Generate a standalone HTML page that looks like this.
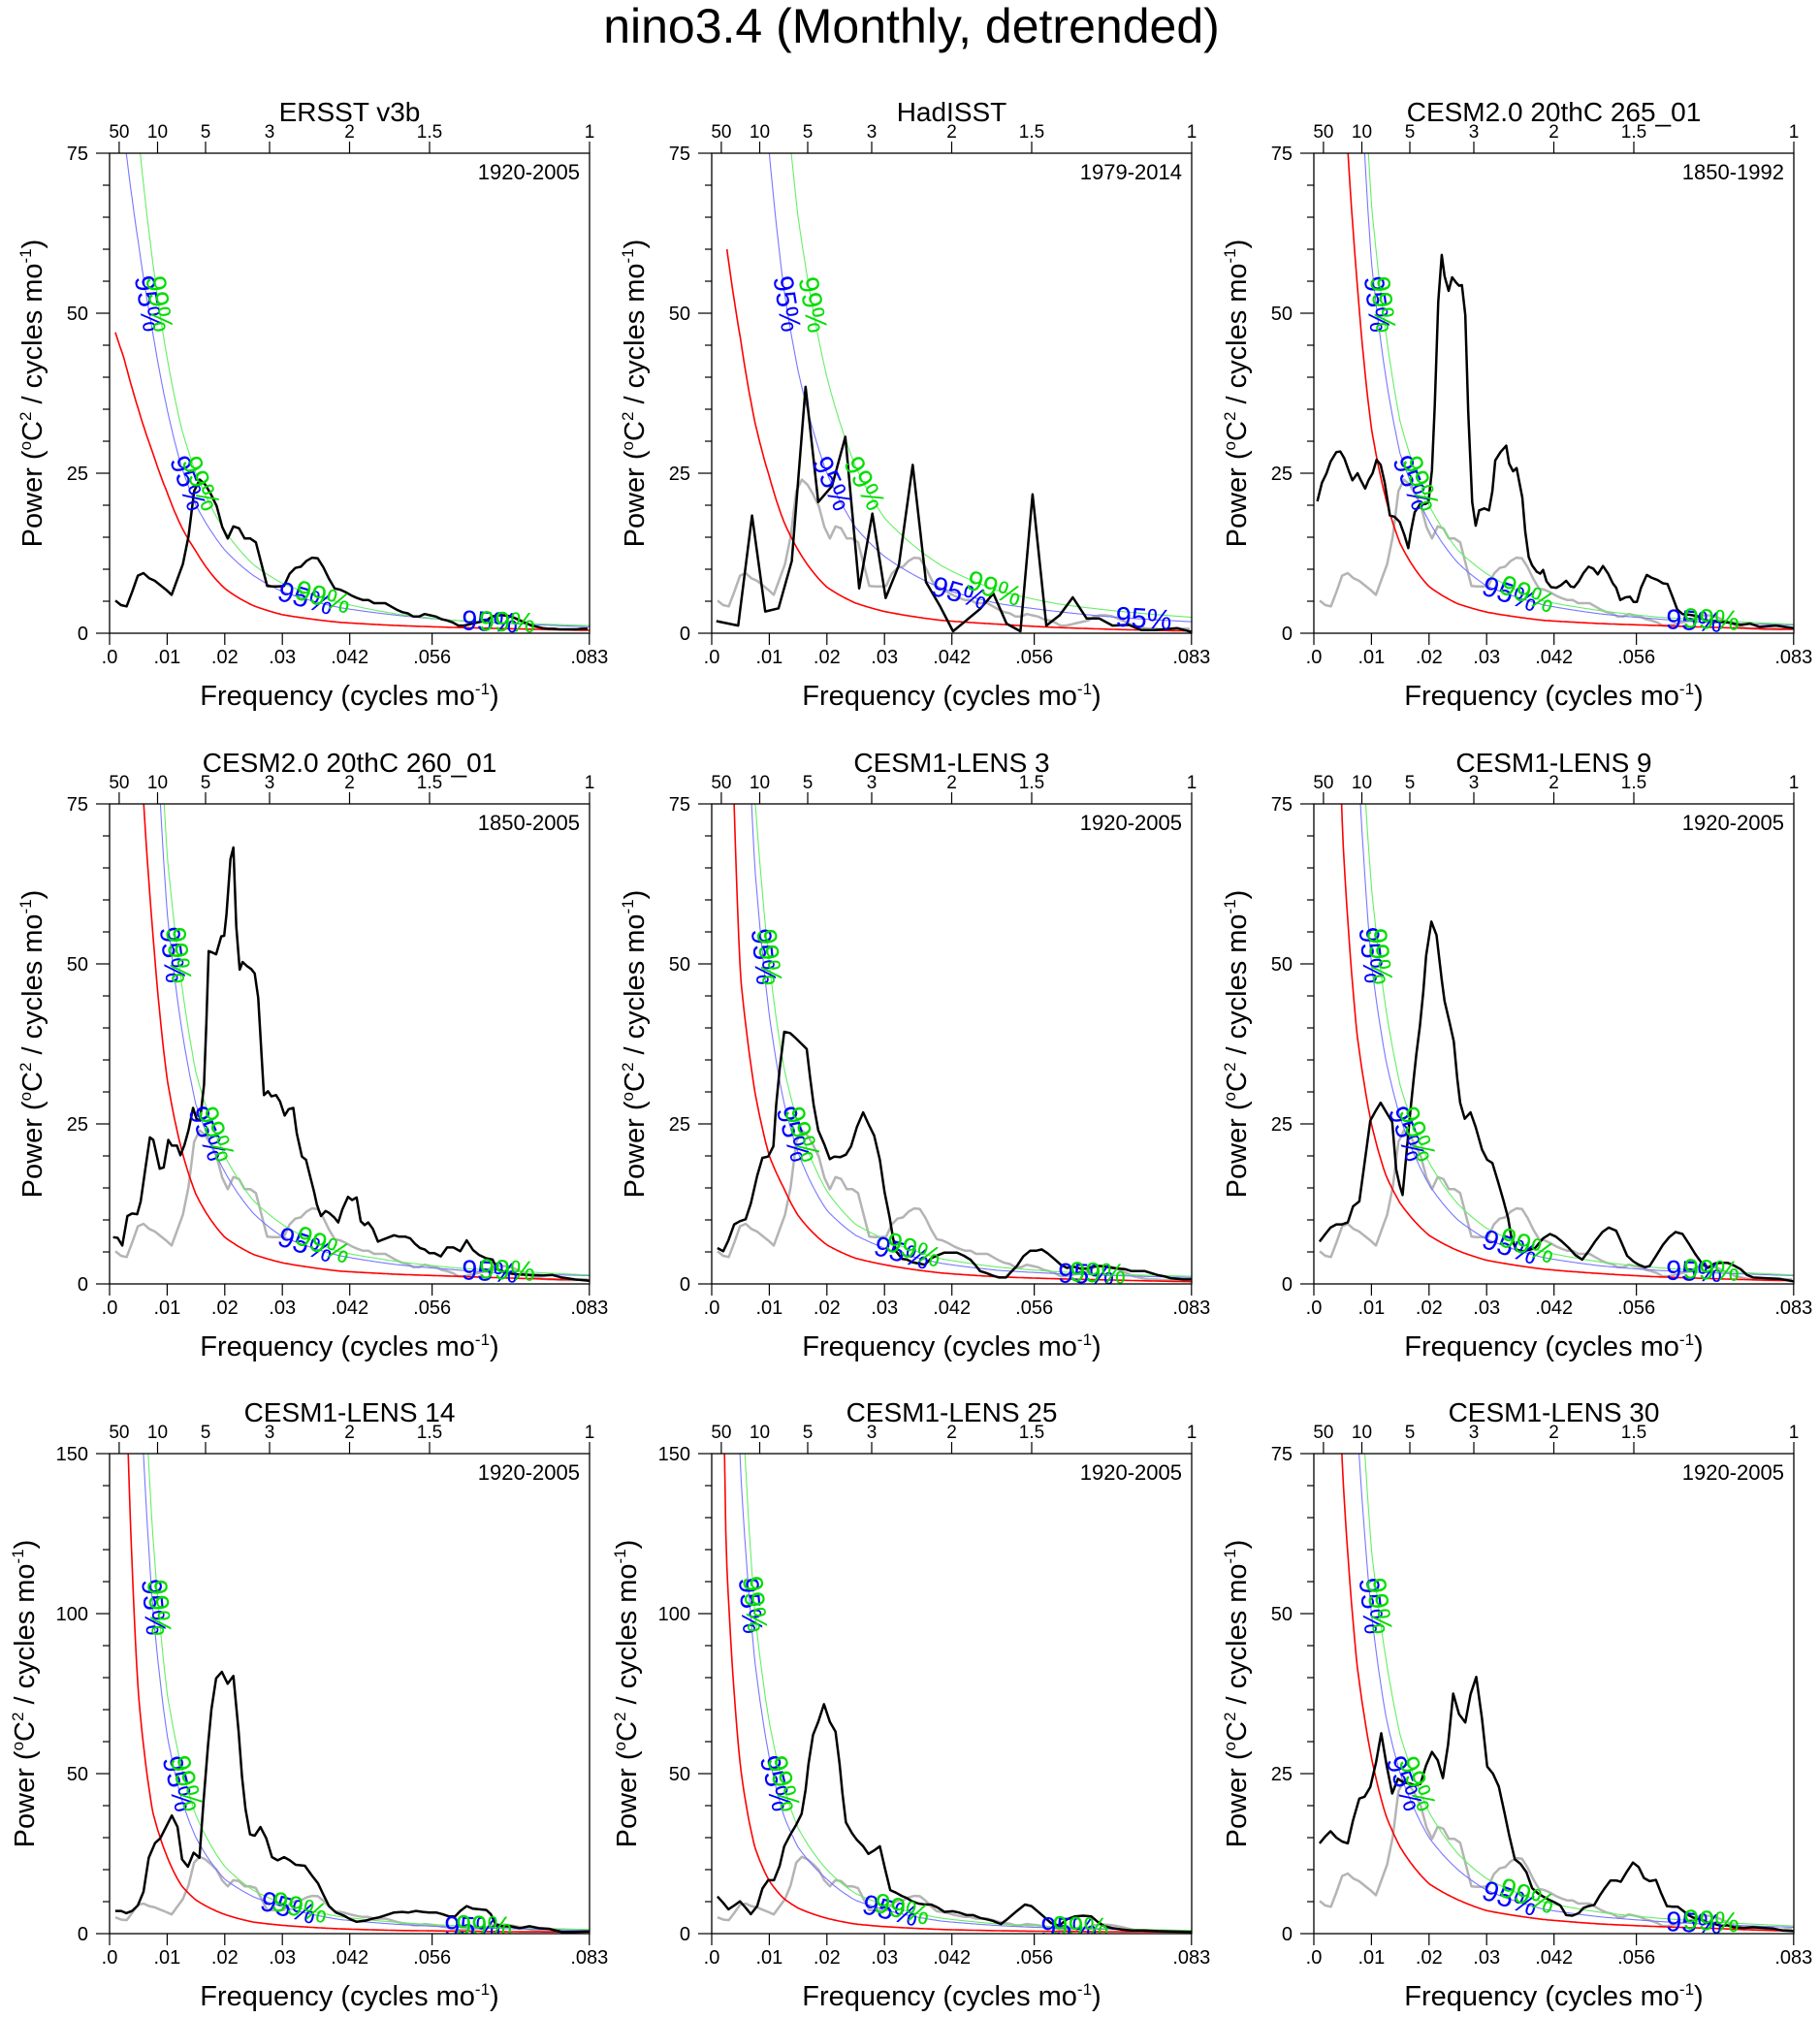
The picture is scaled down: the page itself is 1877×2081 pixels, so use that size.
<!DOCTYPE html>
<html><head><meta charset="utf-8"><title>nino3.4 spectra</title>
<style>
html,body{margin:0;padding:0;background:#fff;}
svg{display:block;font-family:"Liberation Sans",Arial,sans-serif;}
</style></head>
<body>
<svg id="fig" xmlns="http://www.w3.org/2000/svg" width="1877" height="2081" viewBox="0 0 1877 2081">
<rect width="1877" height="2081" fill="#fff"/>
<text x="940" y="44" font-size="50" text-anchor="middle">nino3.4 (Monthly, detrended)</text>
</svg>
<script>
// ---------- data ----------
const GRID = [0.001,0.0025,0.005,0.0075,0.01,0.0125,0.015,0.02,0.025,0.03,0.04,0.05,0.06,0.07,0.0833];
const xTickVals = [0,0.01,0.02,0.03,0.0417,0.056,0.0833];
const xTickLabels = [".0",".01",".02",".03",".042",".056",".083"];
const periodVals = [50,10,5,3,2,1.5,1];
const periodLabels = ["50","10","5","3","2","1.5","1"];

const ersstStart = 0.00101, ersstStep = 0.000976;
const ersstVals = [5.1,4.4,4.2,6.5,9.0,9.4,8.6,8.2,7.5,6.8,6.0,8.4,10.8,15.1,22.2,24.0,23.2,21.7,19.9,16.6,14.8,16.7,16.4,14.8,14.8,14.2,10.8,7.4,7.3,7.3,7.4,9.3,10.2,10.4,11.3,11.8,11.7,10.3,8.5,7.0,6.8,6.4,5.9,5.5,5.2,5.2,4.7,4.7,4.7,4.2,3.7,3.3,3.1,2.6,2.6,3.0,2.8,2.6,2.2,2.0,1.7,1.2,1.2,1.4,1.6,1.8,2.0,2.6,2.8,2.8,2.7,2.4,2.0,1.6,1.2,1.0,0.8,0.7,0.7,0.6,0.6,0.6,0.6,0.7,0.7];

const hadFreq = [.0008,.0046,.007,.0093,.0116,.0139,.0163,.0185,.0209,.0232,.0256,.0279,.0302,.0325,.0349,.0372,.0396,.0419,.0442,.0466,.0489,.0512,.0536,.0557,.0581,.0604,.0627,.0651,.0673,.0696,.0724,.0746,.0769,.0808,.0833];
const hadVals = [1.9,1.2,18.4,3.4,3.9,11.3,38.5,20.5,23,30.7,7.0,18.7,5.5,10.6,26.3,8.0,4.3,0.3,2.0,3.8,6.2,1.5,0.3,21.7,1.2,2.8,5.6,2.3,2.3,1.2,1.3,0.5,0.5,0.8,0.2];

const c265Freq = [.0006,.0014,.0022,.0029,.0039,.0046,.0053,.0061,.0067,.0076,.0081,.0089,.0095,.0102,.0109,.0116,.0123,.0132,.014,.0149,.0157,.0164,.0168,.0175,.0184,.0194,.0199,.0205,.021,.0216,.0222,.0227,.0234,.024,.0247,.0252,.0257,.0263,.0268,.0275,.0281,.0287,.0296,.0304,.031,.0315,.0324,.0334,.0339,.0346,.0352,.0362,.0367,.0373,.0379,.0387,.0393,.0398,.0404,.0412,.0421,.0429,.0438,.0446,.0452,.046,.0468,.0477,.0485,.0493,.0502,.0511,.0519,.0525,.0532,.0541,.0549,.0555,.0561,.0568,.0578,.0586,.0597,.0606,.0614,.0623,.0631,.064,.0651,.0665,.0679,.0696,.0718,.0741,.0757,.0774,.0802,.0833];
const c265Vals = [20.6,23.5,25.0,26.8,28.3,28.4,27.3,25.3,23.9,25.0,24.0,22.6,23.9,25.0,27.1,26.3,23.5,18.4,18.2,17.4,15.4,13.3,15.7,18.9,20.1,20.2,20.5,25.5,35.6,51.8,59.1,55.8,53.5,55.6,54.8,54.3,54.4,49.7,34.6,20.5,16.8,19.2,19.5,19.2,22.2,27.0,28.3,29.3,26.5,25.3,25.8,21.2,15.9,11.9,10.6,9.6,9.3,9.9,8.1,7.2,7.1,7.5,8.2,7.3,7.2,8.1,9.4,10.4,10.1,9.2,10.5,9.3,7.8,7.1,5.2,5.6,5.7,4.9,4.9,7.1,9.1,8.7,8.3,7.8,7.7,5.6,3.7,3.0,2.9,2.7,2.0,1.9,1.7,1.3,1.5,1.0,1.2,0.8];

const c260Freq = [.0006,.0014,.0022,.0031,.0039,.0048,.0054,.0062,.007,.0076,.0087,.0094,.0102,.0108,.0117,.0123,.013,.0137,.0145,.0151,.0157,.0164,.0168,.0172,.0178,.0185,.0194,.0199,.0203,.021,.0215,.022,.0226,.0231,.0238,.0246,.0252,.0258,.0264,.0268,.0275,.0281,.0289,.0296,.0304,.0311,.0319,.0325,.0334,.0341,.0348,.0355,.036,.0367,.0375,.0381,.039,.0397,.0404,.0414,.0421,.0429,.0436,.0443,.0449,.0457,.0466,.0471,.048,.0494,.0502,.0513,.0522,.053,.0539,.0547,.0555,.0564,.0575,.0586,.0597,.0609,.062,.0631,.0642,.0654,.0665,.0673,.069,.0707,.0729,.0752,.0769,.0785,.0808,.0833];
const c260Vals = [7.3,7.2,6.0,10.6,11.0,10.9,12.9,17.9,22.9,22.5,18.0,18.2,22.5,21.6,21.6,20.1,21.7,24.0,27.5,25.8,25.5,31.1,40.7,52.0,51.8,51.5,54.3,54.4,57.8,66.4,68.2,55.8,49.1,50.3,49.7,49.2,48.5,44.7,35.6,29.5,30.1,29.3,29.5,28.5,26.3,27.3,27.5,23.5,19.9,19.4,16.9,14.4,12.4,10.6,11.4,11.1,10.4,9.6,11.6,13.6,13.1,13.5,9.8,9.2,9.6,8.6,6.6,6.8,7.1,7.6,7.4,7.4,7.1,6.3,5.6,5.4,4.8,4.8,4.3,5.7,5.7,5.1,6.8,5.3,4.5,4.0,3.8,2.3,1.7,1.5,1.4,1.3,1.4,1.0,0.7,0.5];

const l3Freq = [.001,.002,.0029,.0039,.0049,.0059,.0068,.0079,.0088,.0098,.0107,.0112,.0118,.0126,.0136,.0146,.0156,.0165,.0171,.0177,.0185,.0196,.0205,.0213,.0223,.0233,.0242,.0252,.0263,.0272,.0282,.0292,.03,.0309,.0315,.032,.0331,.0339,.0348,.0359,.037,.0381,.0393,.0404,.0415,.0426,.0438,.0449,.0457,.0466,.0477,.0488,.0499,.0511,.0519,.053,.0541,.0553,.0564,.0573,.0583,.0595,.0606,.0617,.0628,.064,.0651,.0662,.0673,.0684,.0696,.0707,.0718,.0729,.0741,.0752,.0763,.0774,.0785,.0797,.0808,.0819,.0833];
const l3Vals = [5.6,5.1,6.8,9.3,9.8,10.1,12.6,16.9,19.7,19.9,21.5,28.0,33.6,39.4,39.2,38.4,37.5,36.7,32.1,28.0,24.0,21.7,19.5,19.9,19.8,20.2,21.5,24.5,26.8,25.0,23.2,19.4,14.4,10.4,7.1,5.1,3.9,3.8,3.4,3.2,3.0,4.0,4.5,4.9,4.9,4.9,4.4,3.8,3.0,2.0,1.7,1.3,1.0,1.0,1.8,2.8,4.3,5.2,5.2,5.4,4.8,3.9,3.0,2.5,2.7,2.4,2.4,2.7,2.8,2.7,2.5,2.4,2.3,2.0,2.0,2.0,1.7,1.4,1.2,0.9,0.8,0.7,0.7];

const l9Freq = [.001,.002,.0029,.0039,.0049,.0059,.0068,.0079,.0088,.0098,.0107,.0116,.0126,.0136,.0143,.0149,.0154,.0162,.0167,.0173,.0178,.0184,.019,.0195,.0204,.0213,.0222,.0227,.0236,.0243,.0249,.0254,.0262,.0272,.0281,.0292,.0301,.031,.032,.0329,.0337,.0343,.0351,.0362,.0373,.0384,.0398,.041,.042,.0431,.0443,.0454,.0466,.0477,.0488,.0501,.0512,.0525,.0533,.0544,.0555,.0564,.0575,.0583,.0595,.0606,.0617,.0628,.064,.0651,.0662,.0673,.0684,.0696,.0707,.0718,.0729,.0741,.0752,.0763,.0785,.0808,.0833];
const l9Vals = [6.6,7.8,8.8,9.3,9.3,9.6,12.1,12.9,18.9,25.5,27.0,28.3,26.8,25.3,17.9,15.4,13.9,21.5,26.5,31.8,35.9,40.2,45.7,51.3,56.6,54.5,47.5,44.2,40.7,37.9,32.1,28.3,25.8,26.8,24.5,21.0,19.4,18.9,15.9,13.1,10.4,7.3,5.4,5.1,5.3,5.6,7.1,7.8,7.4,6.6,5.6,4.5,3.8,5.1,6.6,8.1,8.8,8.3,6.7,4.4,3.5,3.0,2.6,2.8,4.5,6.1,7.3,8.1,7.8,6.3,4.7,3.3,2.5,3.2,3.3,3.3,2.9,2.3,1.4,1.0,0.9,0.8,0.4];

const l14Freq = [.001,.002,.0029,.0039,.0049,.0059,.0068,.0079,.0088,.0098,.0108,.0118,.0126,.0136,.0146,.0156,.0163,.0171,.0177,.0185,.0195,.0205,.0215,.0224,.023,.0236,.0244,.0252,.0262,.0272,.0282,.0292,.0303,.0313,.0323,.0339,.0351,.0362,.037,.0381,.0393,.0407,.0418,.0429,.0443,.0457,.0468,.048,.0494,.0508,.0519,.0532,.0544,.0555,.0567,.0578,.0589,.06,.0609,.062,.0631,.0642,.0654,.0662,.067,.0682,.0696,.0712,.0729,.0746,.0763,.0785,.0808,.0833];
const l14Vals = [7.1,7.1,6.4,7.1,8.8,13.1,23.7,28.3,29.8,33.3,36.9,33.3,23.2,20.9,25.3,23.7,40.9,59.1,70.2,79.8,81.8,78.1,80.5,63.1,49.0,38.9,31.0,30.6,33.3,29.8,23.9,22.9,23.9,22.9,21.5,21.2,18.2,15.7,12.6,8.6,6.6,5.6,4.5,3.7,4.0,4.7,5.1,5.8,6.6,6.8,6.6,7.1,6.8,6.6,6.6,6.1,5.4,5.4,7.1,8.6,7.8,7.6,7.4,6.1,3.0,2.3,2.3,1.7,2.3,1.7,1.5,0.5,0.5,0.7];

const l25Freq = [.001,.002,.0029,.0039,.0049,.0059,.0068,.0079,.0088,.0098,.0108,.0118,.0126,.0136,.0146,.0156,.0163,.0168,.0176,.0185,.0195,.0205,.0215,.0222,.0227,.0233,.0244,.0252,.0263,.0272,.0282,.0292,.0301,.031,.032,.033,.0339,.0348,.0359,.037,.0381,.0393,.0404,.0418,.0429,.0443,.0454,.0466,.0477,.0488,.0502,.0513,.053,.0544,.0555,.0567,.0578,.0589,.0603,.0617,.0631,.0645,.0659,.067,.0682,.0696,.0712,.0729,.0752,.0774,.0797,.0833];
const l25Vals = [11.6,9.6,7.6,8.8,10.1,8.1,6.1,8.6,14.1,16.7,16.7,21.2,27.3,30.8,33.8,37.4,44.9,53.0,62.1,66.2,71.7,66.2,63.1,53.0,43.9,34.8,31.3,29.3,27.3,24.9,26.0,27.3,20.2,13.6,12.8,11.8,11.1,10.1,9.4,9.1,9.1,8.1,6.8,7.0,6.6,5.8,5.8,4.9,4.5,4.0,3.0,4.5,7.1,9.1,8.6,6.8,5.1,3.3,2.5,4.5,5.4,5.6,5.4,3.7,2.3,1.7,1.3,1.0,1.0,0.8,0.7,0.5];

const l30Freq = [.001,.002,.0029,.0039,.0049,.0059,.0068,.0079,.0088,.0098,.0108,.0117,.0126,.0136,.0146,.0156,.0165,.0176,.0185,.0195,.0205,.0215,.0224,.0233,.0242,.0252,.0263,.0272,.0282,.0292,.0301,.0311,.0321,.0331,.0339,.0349,.0359,.0369,.0379,.0389,.0398,.0408,.0418,.0428,.0438,.0449,.046,.0468,.0477,.0487,.0496,.0505,.0515,.0525,.0533,.0543,.0554,.0564,.0573,.0583,.0594,.0603,.0613,.0623,.0632,.0642,.0652,.0662,.0673,.0684,.0696,.0707,.0718,.0729,.0746,.0763,.078,.0797,.0813,.0833];
const l30Vals = [14.1,15.2,16.0,15.0,14.4,14.1,17.7,21.1,21.4,22.9,26.8,31.3,26.5,21.9,24.2,23.6,23.5,23.2,23.4,26.3,28.4,27.1,24.3,29.5,37.5,34.3,33.0,37.4,40.1,33.6,26.1,25.0,23.0,18.9,15.4,11.6,10.9,9.6,7.1,6.3,5.8,5.3,4.9,4.4,2.9,2.8,3.2,4.0,4.3,4.5,5.9,7.1,8.3,8.3,8.1,9.6,11.1,10.4,8.7,8.2,8.4,6.3,4.3,4.2,4.2,3.5,2.8,2.4,2.2,1.7,1.5,1.2,1.3,1.0,0.9,1.0,0.9,0.8,0.5,0.4];

// red-noise and significance curves (values at GRID frequencies)
const redErsst = [47,43,35,28.2,22,16.6,12.8,7.0,4.3,2.9,1.7,1.2,0.9,0.7,0.45];
const sig95Ersst = [95,78,61,47,35,26,20,13,9,6.5,4.0,2.8,2.0,1.5,1.0];
const sig99Ersst = [130,105,78,58,43,32,25,16,10.7,7.8,4.8,3.0,2.0,1.6,1.2];
const redHad = [null,61,46,33,24.5,17.5,13,7.2,4.7,3.4,2.0,1.4,0.9,0.6,0.35];
const sig95Had = [200,170,130,100,75,54,41,25,16.5,12,7,4.6,3.4,2.5,1.8];
const sig99Had = [260,220,170,140,115,88,65,40,26,18,10.5,6.6,4.6,3.5,2.5];
const redC2 = [300,200,90,55,32,21,14,7.3,4.6,3.3,2.0,1.5,1.2,0.9,0.6];
const sig95C2 = [500,300,160,100,58,40,28,17.5,11,7.4,4.4,3.0,2.2,1.6,1.3];
const sig99C2 = [550,350,180,115,67,47,33,20,13,9.3,5.0,3.5,2.5,2.0,1.4];
const redL3 = [300,130,48,30,20,15,10.7,6.1,4.0,3.0,1.7,1.1,0.8,0.6,0.35];
const sig95L3 = [400,220,120,65,42,28.5,20.5,11.5,7.6,5.6,3.2,2.1,1.6,1.3,1.0];
const sig99L3 = [450,260,140,76,50,34,25,14.5,9.3,7.0,3.9,2.6,1.9,1.5,1.2];
const redL9 = [400,180,70,39,25,17,12.6,7.6,5.2,3.7,2.3,1.6,1.1,0.8,0.5];
const sig95L9 = [500,280,150,85,50,35,26,15.5,10,7.0,4.1,2.8,2.1,1.7,1.3];
const sig99L9 = [550,330,175,100,62,43,31,19,12.5,8.7,5.0,3.4,2.5,2.0,1.4];
const redL14 = [600,200,75,38,24,15,10.5,6.0,3.6,2.6,1.5,1.0,0.8,0.6,0.5];
const sig95L14 = [800,400,185,102,62,42,30,17,11.5,8.4,4.4,2.9,2.0,1.5,1.0];
const sig99L14 = [900,500,220,125,75,52,37,21,13.5,9.5,5.3,3.5,2.5,1.9,1.3];
const redL25 = [400,120,52,27,16.5,11,8,4.8,3.0,2.2,1.3,0.9,0.7,0.6,0.5];
const sig95L25 = [700,330,145,85,55,37,27,17,10.4,7.5,3.9,2.5,1.7,1.3,0.8];
const sig99L25 = [800,400,180,100,66,46,33,20,12.5,9,4.8,3.0,2.1,1.5,1.0];
const redL30 = [400,150,72,42,27.5,18.5,13.5,7.8,5.3,3.6,2.2,1.5,1.1,0.8,0.4];
const sig95L30 = [500,270,140,80,50,34,25,15,10,6.8,3.8,2.6,1.9,1.4,1.0];
const sig99L30 = [550,320,170,98,60,43,31,19,12.5,8.6,4.9,3.3,2.4,1.8,1.2];

// ---------- rendering ----------
const NS = "http://www.w3.org/2000/svg";
const svg = document.getElementById('fig');
const COLX = [113,734,1355], ROWY = [158,829,1499], PW = 495, PH = 495, FMAX = 1/12;
const ersstPairs = ersstVals.map((v,i)=>[ersstStart+i*ersstStep, v]);
const zip = (f,v)=>f.map((x,i)=>[x,v[i]]);

const panels = [
 {name:'ersst', title:'ERSST v3b', years:'1920-2005', ymax:75, black:ersstPairs, gray:null, red:redErsst, s95:sig95Ersst, s99:sig99Ersst, lab:[0.034,0.037,0.066,0.069]},
 {name:'hadisst', title:'HadISST', years:'1979-2014', ymax:75, black:zip(hadFreq,hadVals), gray:ersstPairs, red:redHad, s95:sig95Had, s99:sig99Had, lab:[0.043,0.049,0.075,null]},
 {name:'cesm2-265', title:'CESM2.0 20thC 265_01', years:'1850-1992', ymax:75, black:zip(c265Freq,c265Vals), gray:ersstPairs, red:redC2, s95:sig95C2, s99:sig99C2, lab:[0.034,0.037,0.066,0.069]},
 {name:'cesm2-260', title:'CESM2.0 20thC 260_01', years:'1850-2005', ymax:75, black:zip(c260Freq,c260Vals), gray:ersstPairs, red:redC2, s95:sig95C2, s99:sig99C2, lab:[0.034,0.037,0.066,0.069]},
 {name:'lens3', title:'CESM1-LENS 3', years:'1920-2005', ymax:75, black:zip(l3Freq,l3Vals), gray:ersstPairs, red:redL3, s95:sig95L3, s99:sig99L3, lab:[0.033,0.035,0.065,0.067]},
 {name:'lens9', title:'CESM1-LENS 9', years:'1920-2005', ymax:75, black:zip(l9Freq,l9Vals), gray:ersstPairs, red:redL9, s95:sig95L9, s99:sig99L9, lab:[0.034,0.037,0.066,0.069]},
 {name:'lens14', title:'CESM1-LENS 14', years:'1920-2005', ymax:150, black:zip(l14Freq,l14Vals), gray:ersstPairs, red:redL14, s95:sig95L14, s99:sig99L14, lab:[0.031,0.033,0.063,0.065]},
 {name:'lens25', title:'CESM1-LENS 25', years:'1920-2005', ymax:150, black:zip(l25Freq,l25Vals), gray:ersstPairs, red:redL25, s95:sig95L25, s99:sig99L25, lab:[0.031,0.033,0.062,0.064]},
 {name:'lens30', title:'CESM1-LENS 30', years:'1920-2005', ymax:75, black:zip(l30Freq,l30Vals), gray:ersstPairs, red:redL30, s95:sig95L30, s99:sig99L30, lab:[0.034,0.037,0.066,0.069]}
];

function mk(tag, attrs, parent){
  const e = document.createElementNS(NS, tag);
  for (const k in attrs) e.setAttribute(k, attrs[k]);
  parent.appendChild(e);
  return e;
}
function gridVal(arr, f){
  for (let i=0;i<GRID.length-1;i++){
    if (f>=GRID[i] && f<=GRID[i+1]){
      const a=arr[i], b=arr[i+1];
      if (a==null||b==null) return null;
      const t=(f-GRID[i])/(GRID[i+1]-GRID[i]);
      return Math.exp(Math.log(a)+(Math.log(b)-Math.log(a))*t);
    }
  }
  return null;
}

panels.forEach((p, idx)=>{
  const x0 = COLX[idx%3], y0 = ROWY[Math.floor(idx/3)];
  const xs = f => x0 + f/FMAX*PW;
  const ys = v => y0 + PH - v/p.ymax*PH;
  const g = mk('g', {}, svg);
  
  
  const cid = 'clip'+idx;
  const cp = mk('clipPath', {id:cid}, g);
  mk('rect', {x:x0, y:y0, width:PW, height:PH}, cp);

  const t = mk('text', {x:x0+PW/2, y:y0-33, 'font-size':28, 'text-anchor':'middle'}, g);
  
  
  t.textContent = p.title;
  const yr = mk('text', {x:x0+PW-10, y:y0+27, 'font-size':22, 'text-anchor':'end'}, g);
  
  
  yr.textContent = p.years;

  const cg = mk('g', {'clip-path':'url(#'+cid+')'}, g);
  function gridPath(arr, color, w, nm){
    let d='', pen=false;
    for (let k=0;k<=400;k++){
      const f = GRID[0] + (GRID[GRID.length-1]-GRID[0])*k/400;
      const v = gridVal(arr, f);
      if (v==null){pen=false; continue;}
      const yy = Math.max(ys(v), y0-50);
      d += (pen?'L':'M') + xs(f).toFixed(1)+','+yy.toFixed(1);
      pen=true;
    }
    const pth = mk('path', {d:d, fill:'none', stroke:color, 'stroke-width':w}, cg);
    
    
  }
  function seriesPath(pairs, color, w, nm){
    const d = pairs.map((q,i)=>(i?'L':'M')+xs(q[0]).toFixed(1)+','+ys(q[1]).toFixed(1)).join('');
    const pth = mk('path', {d:d, fill:'none', stroke:color, 'stroke-width':w, 'stroke-linejoin':'round'}, cg);
    
    
  }
  if (p.gray) seriesPath(p.gray, '#b4b4b4', 2.5, 'observed-spectrum-gray');
  gridPath(p.red, '#ff0000', 1.6, 'red-noise-curve');
  gridPath(p.s95, '#7777ff', 1.1, 'sig95-curve');
  gridPath(p.s99, '#66ee66', 1.1, 'sig99-curve');
  seriesPath(p.black, '#000000', 2.5, 'spectrum-line');

  function labelAt(arr, f, color, txt){
    if (f==null) return;
    const v = gridVal(arr, f), v2 = gridVal(arr, f+0.0004);
    if (v==null||v2==null) return;
    const ang = Math.atan2(ys(v2)-ys(v), xs(f+0.0004)-xs(f))*180/Math.PI;
    const lx = xs(f), ly = ys(v);
    const tl = mk('text', {x:lx, y:ly, fill:color, 'font-size':29, 'text-anchor':'middle', 'dominant-baseline':'central', transform:'rotate('+ang.toFixed(1)+' '+lx.toFixed(1)+' '+ly.toFixed(1)+')'}, cg);
    
    
    tl.textContent = txt;
  }
  function fAtPix(arr, py){
    for (let k=0;k<=800;k++){
      const f = 0.001 + 0.05*k/800;
      const v = gridVal(arr, f);
      if (v!=null && ys(v) >= py) return f;
    }
    return 0.02;
  }
  [155, 340].forEach(py=>{
    labelAt(p.s95, fAtPix(p.s95, y0+py), '#0000ff', '95%');
    labelAt(p.s99, fAtPix(p.s99, y0+py), '#00dd00', '99%');
  });
  labelAt(p.s95, p.lab[0], '#0000ff', '95%');
  labelAt(p.s99, p.lab[1], '#00dd00', '99%');
  labelAt(p.s95, p.lab[2], '#0000ff', '95%');
  labelAt(p.s99, p.lab[3], '#00dd00', '99%');

  const fr = mk('rect', {x:x0, y:y0, width:PW, height:PH, fill:'none', stroke:'#000', 'stroke-width':1.3}, g);
  
  

  const major = p.ymax/3, minor = p.ymax===75 ? 5 : 10;
  for (let v=0; v<=p.ymax+0.01; v+=minor){
    const isMaj = Math.abs(v/major - Math.round(v/major))<1e-6;
    mk('line', {x1:x0-(isMaj?14:7), x2:x0, y1:ys(v), y2:ys(v), stroke:'#000', 'stroke-width':1.2}, g);
    if (isMaj){
      const tl = mk('text', {x:x0-22, y:ys(v)+7, 'font-size':20, 'text-anchor':'end'}, g);
      
      
      tl.textContent = String(Math.round(v));
    }
  }
  xTickVals.forEach((f,i)=>{
    mk('line', {x1:xs(f), x2:xs(f), y1:y0+PH, y2:y0+PH+12, stroke:'#000', 'stroke-width':1.2}, g);
    const tl = mk('text', {x:xs(f), y:y0+PH+31, 'font-size':20, 'text-anchor':'middle'}, g);
    
    
    tl.textContent = xTickLabels[i];
  });
  periodVals.forEach((P,i)=>{
    const f = 1/(12*P);
    mk('line', {x1:xs(f), x2:xs(f), y1:y0-12, y2:y0, stroke:'#000', 'stroke-width':1.2}, g);
    const tl = mk('text', {x:xs(f), y:y0-16, 'font-size':19, 'text-anchor':'middle'}, g);
    
    
    tl.textContent = periodLabels[i];
  });

  const xt = mk('text', {x:x0+PW/2, y:y0+PH+74, 'font-size':29, 'text-anchor':'middle'}, g);
  
  
  xt.innerHTML = 'Frequency (cycles mo<tspan dy="-11" font-size="17">-1</tspan><tspan dy="11">)</tspan>';
  const ytx = x0 - (p.ymax===150 ? 78 : 70), yty = y0+PH/2;
  const yt = mk('text', {x:ytx, y:yty, 'font-size':29, 'text-anchor':'middle', transform:'rotate(-90 '+ytx+' '+yty+')'}, g);
  
  
  yt.innerHTML = 'Power (<tspan dy="-11" font-size="17">o</tspan><tspan dy="11">C</tspan><tspan dy="-11" font-size="17">2</tspan><tspan dy="11"> / cycles mo</tspan><tspan dy="-11" font-size="17">-1</tspan><tspan dy="11">)</tspan>';
});
</script>
</body></html>
